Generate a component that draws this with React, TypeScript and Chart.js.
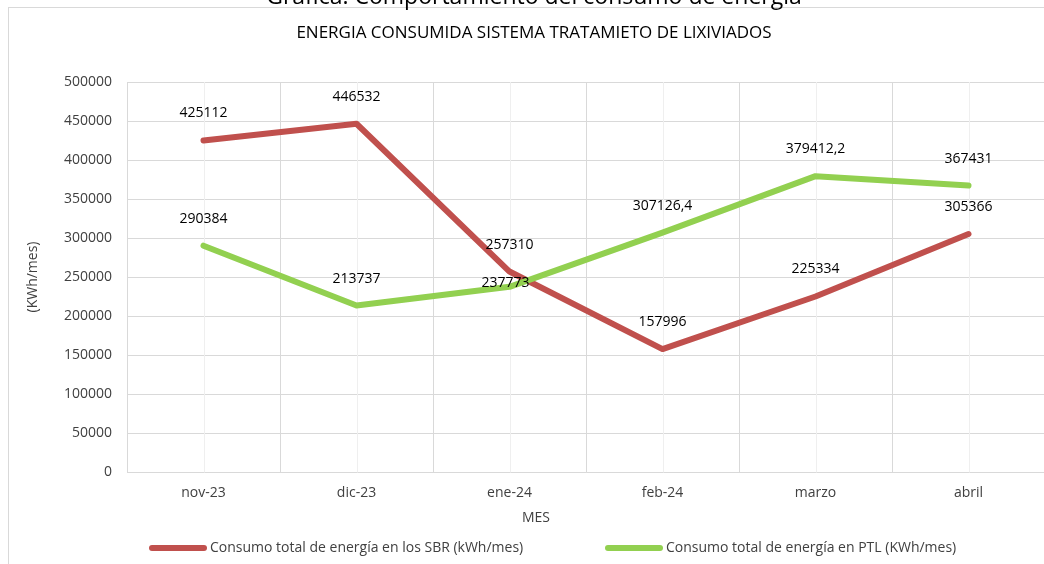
import React, { useEffect, useRef } from "react";
import { Chart, registerables } from "chart.js";

Chart.register(...registerables);

const categories = ["nov-23", "dic-23", "ene-24", "feb-24", "marzo", "abril"];
const sbrValues = [425112, 446532, 257310, 157996, 225334, 305366];
const ptlValues = [290384, 213737, 237773, 307126.4, 379412.2, 367431];
const seriesNames = [
  "Consumo total de energía en los SBR (kWh/mes)",
  "Consumo total de energía en PTL (KWh/mes)",
];
const yTicksMax = 500000;
const yTicksStep = 50000;
const chartTitle = "ENERGIA CONSUMIDA SISTEMA TRATAMIETO DE LIXIVIADOS";
const outerTitle = "Gráfica: Comportamiento del consumo de energía";
const xAxisTitle = "MES";
const yAxisTitle = "(KWh/mes)";
// label nudges per point, to mimic manual label placement
const sbrLabelDy = [0, 0, 0, 0, 0, 0];
const ptlLabelDy = [0, 0, 23, 0, 0, 0];
const ptlLabelDx = [0, 0, -4, 0, 0, 0];

const RED = "#C0504D";
const GREEN = "#92D050";
const FONT = "'Open Sans', sans-serif";

const fmt = (v: number) => String(v).replace(".", ",");

const decorPlugin = {
  id: "decor",
  beforeDatasetsDraw(chart: any) {
    const { ctx, chartArea, scales } = chart;
    const xs = scales.x;
    ctx.save();
    ctx.strokeStyle = "#efefef";
    ctx.lineWidth = 1;
    categories.forEach((_, i) => {
      const x = Math.round(xs.getPixelForValue(i)) + 0.5;
      ctx.beginPath();
      ctx.moveTo(x, chartArea.top);
      ctx.lineTo(x, chartArea.bottom);
      ctx.stroke();
    });
    ctx.restore();
  },
  afterDraw(chart: any) {
    const { ctx } = chart;
    ctx.save();
    // frame
    ctx.strokeStyle = "#d9d9d9";
    ctx.lineWidth = 1;
    ctx.strokeRect(8.5, 7.5, 1052, 620);
    // outer cut title
    ctx.fillStyle = "#000";
    ctx.textAlign = "center";
    ctx.textBaseline = "alphabetic";
    ctx.font = `23px ${FONT}`;
    ctx.fillText(outerTitle, 534, 4);
    // chart title
    ctx.fillStyle = "#000";
    ctx.font = `17px ${FONT}`;
    ctx.textBaseline = "middle";
    ctx.fillText(chartTitle, 534, 33);
    // x axis title
    ctx.font = `14px ${FONT}`;
    ctx.fillStyle = "#404040";
    ctx.fillText(xAxisTitle, 536, 518);
    // y axis title
    ctx.save();
    ctx.translate(33, 277);
    ctx.rotate(-Math.PI / 2);
    ctx.fillText(yAxisTitle, 0, 0);
    ctx.restore();
    // legend
    const items = [
      { x: 149, color: RED, text: seriesNames[0] },
      { x: 605, color: GREEN, text: seriesNames[1] },
    ];
    const ly = 548;
    items.forEach((it) => {
      ctx.strokeStyle = it.color;
      ctx.lineWidth = 6;
      ctx.lineCap = "round";
      ctx.beginPath();
      ctx.moveTo(it.x + 3, ly);
      ctx.lineTo(it.x + 55, ly);
      ctx.stroke();
      ctx.fillStyle = "#404040";
      ctx.textAlign = "left";
      ctx.font = `14px ${FONT}`;
      ctx.fillText(it.text, it.x + 61, ly);
    });
    ctx.restore();
  },
  afterDatasetsDraw(chart: any) {
    const { ctx } = chart;
    ctx.save();
    ctx.font = `14px ${FONT}`;
    ctx.fillStyle = "#000";
    ctx.textAlign = "center";
    ctx.textBaseline = "middle";
    const dys = [sbrLabelDy, ptlLabelDy];
    const dxs = [[0, 0, 0, 0, 0, 0], ptlLabelDx];
    chart.data.datasets.forEach((ds: any, di: number) => {
      const meta = chart.getDatasetMeta(di);
      meta.data.forEach((el: any, i: number) => {
        ctx.fillText(fmt(ds.data[i]), el.x + dxs[di][i], el.y - 27 + dys[di][i]);
      });
    });
    ctx.restore();
  },
};

export default function App() {
  const ref = useRef<HTMLCanvasElement>(null);
  useEffect(() => {
    if (!ref.current) return;
    const chart = new Chart(ref.current, {
      type: "line",
      data: {
        labels: categories,
        datasets: [
          {
            label: seriesNames[0],
            data: sbrValues,
            borderColor: RED,
            backgroundColor: RED,
            borderWidth: 6,
            pointRadius: 0,
            tension: 0,
            borderJoinStyle: "round",
            borderCapStyle: "round",
            order: 1,
          },
          {
            label: seriesNames[1],
            data: ptlValues,
            borderColor: GREEN,
            backgroundColor: GREEN,
            borderWidth: 6,
            pointRadius: 0,
            tension: 0,
            borderJoinStyle: "round",
            borderCapStyle: "round",
            order: 0,
          },
        ],
      },
      options: {
        animation: false,
        responsive: false,
        maintainAspectRatio: false,
        layout: { padding: { left: 0, right: 25, top: 82, bottom: 51.5 } },
        plugins: {
          legend: { display: false },
          title: { display: false },
          tooltip: { enabled: false },
        },
        scales: {
          x: {
            type: "category",
            offset: true,
            grid: { color: "#d9d9d9", lineWidth: 1, drawTicks: false, offset: true },
            border: { color: "#d9d9d9" },
            ticks: { color: "#404040", font: { family: FONT, size: 14 }, padding: 12 },
            afterFit: (s: any) => {
              s.height = 40;
            },
          },
          y: {
            min: 0,
            max: yTicksMax,
            grid: { color: "#d9d9d9", lineWidth: 1, drawTicks: false },
            border: { color: "#d9d9d9" },
            ticks: {
              stepSize: yTicksStep,
              color: "#404040",
              font: { family: FONT, size: 14 },
              padding: 15,
              callback: (v: any) => String(v),
            },
            afterFit: (s: any) => {
              s.width = 127;
            },
          },
        },
      },
      plugins: [decorPlugin],
    });
    return () => chart.destroy();
  }, []);
  return (
    <div
      style={{
        position: "fixed",
        left: 0,
        top: 0,
        width: 1044,
        height: 564,
        overflow: "hidden",
        background: "#fff",
      }}
    >
      <canvas ref={ref} width={1070} height={564} style={{ width: 1070, height: 564, display: "block" }} />
    </div>
  );
}
